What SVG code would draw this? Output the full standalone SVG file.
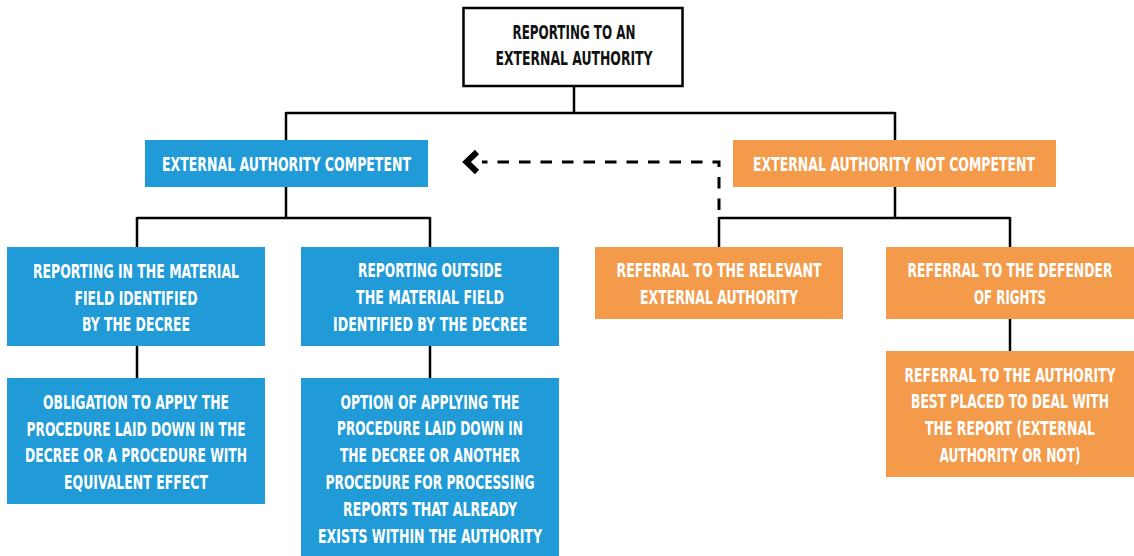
<svg xmlns="http://www.w3.org/2000/svg" width="1134" height="556" viewBox="0 0 1134 556">
  <style>
    .blue { fill: #219bd7; }
    .orange { fill: #f39b4b; }
    .root { fill: #ffffff; stroke: #000000; stroke-width: 2.5; }
    text { font-family: "DejaVu Sans Condensed", "DejaVu Sans", sans-serif; font-weight: bold; font-size: 19px; text-anchor: middle; }
    .w { fill: #ffffff; }
    .k { fill: #111111; }
    .line { fill: none; stroke: #000000; stroke-width: 2.5; }
    .dash { fill: none; stroke: #000000; stroke-width: 3; stroke-dasharray: 11.5 10; }
  </style>
  <defs>
    <marker id="chev" markerUnits="userSpaceOnUse" viewBox="0 0 24 26" markerWidth="24" markerHeight="26" refX="0" refY="13" orient="auto" overflow="visible">
      <path d="M 5,3 L 15.5,13 L 5,23" fill="none" stroke="#000000" stroke-width="6" stroke-linejoin="miter"/>
    </marker>
  </defs>

  <g id="connectors">
    <path class="line" d="M574,87 V113 M286,113 H895 M286,112 V140 M895,112 V140"/>
    <path class="line" d="M286,186 V218 M137,218 H430 M137,217 V247 M430,217 V247"/>
    <path class="line" d="M137,346 V378 M430,346 V378"/>
    <path class="line" d="M895,186 V218 M719,218 H1010 M719,217 V247 M1010,217 V247"/>
    <path class="line" d="M1010,318 V351"/>
    <path class="dash" d="M719,210 V162 H482" marker-end="url(#chev)"/>
  </g>

  <g id="root">
    <rect class="root" x="463.5" y="8" width="219" height="78"/>
    <text class="k" x="574" y="39" textLength="123" lengthAdjust="spacingAndGlyphs">REPORTING TO AN</text>
    <text class="k" x="574" y="65" textLength="157" lengthAdjust="spacingAndGlyphs">EXTERNAL AUTHORITY</text>
  </g>

  <g id="competent">
    <rect class="blue" x="145" y="140" width="283" height="47"/>
    <text class="w" x="286.5" y="171" textLength="249" lengthAdjust="spacingAndGlyphs">EXTERNAL AUTHORITY COMPETENT</text>
  </g>

  <g id="not-competent">
    <rect class="orange" x="733" y="140" width="323" height="47"/>
    <text class="w" x="894" y="171" textLength="282" lengthAdjust="spacingAndGlyphs">EXTERNAL AUTHORITY NOT COMPETENT</text>
  </g>

  <g id="in-field">
    <rect class="blue" x="7" y="247" width="258" height="99"/>
    <text class="w" x="136" y="278" textLength="206" lengthAdjust="spacingAndGlyphs">REPORTING IN THE MATERIAL</text>
    <text class="w" x="136" y="305" textLength="123" lengthAdjust="spacingAndGlyphs">FIELD IDENTIFIED</text>
    <text class="w" x="136" y="331" textLength="108" lengthAdjust="spacingAndGlyphs">BY THE DECREE</text>
  </g>

  <g id="outside-field">
    <rect class="blue" x="301" y="247" width="258" height="99"/>
    <text class="w" x="430" y="277" textLength="144" lengthAdjust="spacingAndGlyphs">REPORTING OUTSIDE</text>
    <text class="w" x="430" y="304" textLength="148" lengthAdjust="spacingAndGlyphs">THE MATERIAL FIELD</text>
    <text class="w" x="430" y="331" textLength="194" lengthAdjust="spacingAndGlyphs">IDENTIFIED BY THE DECREE</text>
  </g>

  <g id="obligation">
    <rect class="blue" x="7" y="378" width="258" height="126"/>
    <text class="w" x="136" y="409" textLength="186" lengthAdjust="spacingAndGlyphs">OBLIGATION TO APPLY THE</text>
    <text class="w" x="136" y="436" textLength="219" lengthAdjust="spacingAndGlyphs">PROCEDURE LAID DOWN IN THE</text>
    <text class="w" x="136" y="462" textLength="222" lengthAdjust="spacingAndGlyphs">DECREE OR A PROCEDURE WITH</text>
    <text class="w" x="136" y="489" textLength="144" lengthAdjust="spacingAndGlyphs">EQUIVALENT EFFECT</text>
  </g>

  <g id="option">
    <rect class="blue" x="301" y="378" width="258" height="178"/>
    <text class="w" x="430" y="409" textLength="179" lengthAdjust="spacingAndGlyphs">OPTION OF APPLYING THE</text>
    <text class="w" x="430" y="435" textLength="186" lengthAdjust="spacingAndGlyphs">PROCEDURE LAID DOWN IN</text>
    <text class="w" x="430" y="462" textLength="180" lengthAdjust="spacingAndGlyphs">THE DECREE OR ANOTHER</text>
    <text class="w" x="430" y="489" textLength="209" lengthAdjust="spacingAndGlyphs">PROCEDURE FOR PROCESSING</text>
    <text class="w" x="430" y="516" textLength="174" lengthAdjust="spacingAndGlyphs">REPORTS THAT ALREADY</text>
    <text class="w" x="430" y="543" textLength="224" lengthAdjust="spacingAndGlyphs">EXISTS WITHIN THE AUTHORITY</text>
  </g>

  <g id="relevant-authority">
    <rect class="orange" x="595" y="247" width="248" height="72"/>
    <text class="w" x="719" y="277" textLength="205" lengthAdjust="spacingAndGlyphs">REFERRAL TO THE RELEVANT</text>
    <text class="w" x="719" y="304" textLength="158" lengthAdjust="spacingAndGlyphs">EXTERNAL AUTHORITY</text>
  </g>

  <g id="defender">
    <rect class="orange" x="886" y="247" width="248" height="72"/>
    <text class="w" x="1010" y="277" textLength="205" lengthAdjust="spacingAndGlyphs">REFERRAL TO THE DEFENDER</text>
    <text class="w" x="1010" y="304" textLength="72" lengthAdjust="spacingAndGlyphs">OF RIGHTS</text>
  </g>

  <g id="best-placed">
    <rect class="orange" x="886" y="351" width="248" height="126"/>
    <text class="w" x="1010" y="382" textLength="211" lengthAdjust="spacingAndGlyphs">REFERRAL TO THE AUTHORITY</text>
    <text class="w" x="1010" y="408" textLength="198" lengthAdjust="spacingAndGlyphs">BEST PLACED TO DEAL WITH</text>
    <text class="w" x="1010" y="435" textLength="170" lengthAdjust="spacingAndGlyphs">THE REPORT (EXTERNAL</text>
    <text class="w" x="1010" y="462" textLength="141" lengthAdjust="spacingAndGlyphs">AUTHORITY OR NOT)</text>
  </g>
</svg>
